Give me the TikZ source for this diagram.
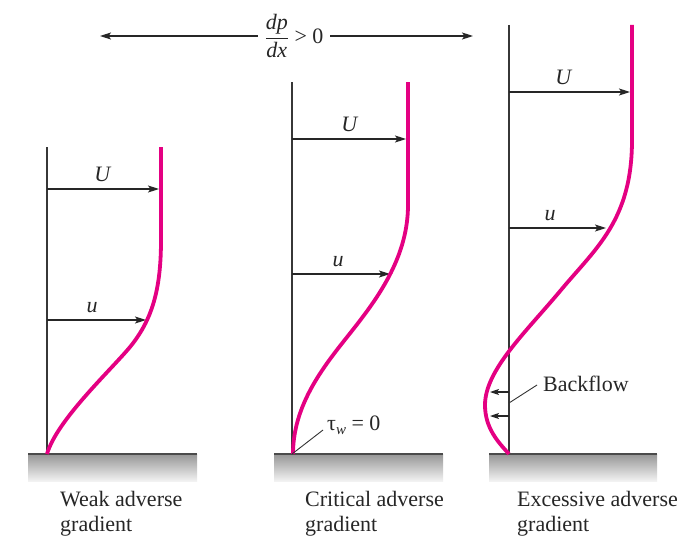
\documentclass[tikz,border=0pt]{standalone}
\usepackage{fontspec}
\setmainfont{Liberation Serif}
\usetikzlibrary{arrows.meta}
\definecolor{mag}{RGB}{228,0,130}
\definecolor{axgray}{RGB}{55,55,55}
\definecolor{walltop}{RGB}{150,150,150}
\definecolor{wallbot}{RGB}{242,242,242}
\tikzset{
 axisline/.style={draw=axgray, line width=1.4pt},
 wallline/.style={draw=axgray!90, line width=2pt},
 profile/.style={draw=mag, line width=3.8pt, line join=round},
 vel/.style={draw=black!85, line width=1.2pt, -{Stealth[length=11pt,width=7pt,inset=2.5pt]}},
 lbl/.style={font=\fontsize{22}{25}\selectfont, inner sep=0pt, text=black!85},
 wallfill/.style={top color=walltop, bottom color=wallbot, draw=none},
 leader/.style={draw=black!80, line width=0.9pt},
}
\begin{document}
\begin{tikzpicture}[x=1pt,y=-1pt]
\useasboundingbox (0,0) rectangle (679,535);

% ---- top pressure-gradient label
\node[lbl, outer sep=7pt] (grad) at (294,36) {$\displaystyle\frac{\textit{dp}}{\textit{dx}}$ > 0};
\coordinate (gl) at (100,36);
\coordinate (gr) at (473,36);
\draw[vel] (grad.west) -- (grad.west -| gl);
\draw[vel] (grad.east) -- (grad.east -| gr);

% ---- panel 1
\shade[wallfill] (28,454) rectangle (197,481);
\draw[wallline] (28,454) -- (197,454);
\coordinate (a1t) at (47,147);
\coordinate (a1b) at (47,454);
\draw[axisline] (a1t) -- (a1b);
\coordinate (U1s) at (47,189); \coordinate (U1e) at (159,189);
\coordinate (u1s) at (47,320); \coordinate (u1e) at (146,320);
\draw[vel] (U1s) -- (U1e);
\draw[vel] (u1s) -- (u1e);
\node[lbl, anchor=base] (U1) at (103,181) {\textit{U}};
\node[lbl, anchor=base] (u1) at (92,312) {\textit{u}};
\draw[profile] (161,147) -- (161,240)
  .. controls (161,290) and (152,320) .. (130,347)
  .. controls (110,371) and (57,420) .. (47,454);

% ---- panel 2
\shade[wallfill] (274,454) rectangle (443,481);
\draw[wallline] (274,454) -- (443,454);
\coordinate (a2t) at (292,82);
\coordinate (a2b) at (292,454);
\draw[axisline] (a2t) -- (a2b);
\coordinate (U2s) at (292,139); \coordinate (U2e) at (406,139);
\coordinate (u2s) at (292,274); \coordinate (u2e) at (390,274);
\draw[vel] (U2s) -- (U2e);
\draw[vel] (u2s) -- (u2e);
\node[lbl, anchor=base] (U2) at (350,131) {\textit{U}};
\node[lbl, anchor=base] (u2) at (338,266) {\textit{u}};
\draw[profile] (408,82) -- (408,205)
  .. controls (408,255) and (380,295) .. (355,327)
  .. controls (330,359) and (293,400) .. (293,454);
\node[lbl, anchor=base west] (tau) at (327,430) {τ{\fontsize{15}{15}\selectfont\raisebox{-4pt}{\textit{w}}} = 0};
\draw[leader] (a2b) -- ([shift={(-4,0)}]tau.base west);

% ---- panel 3
\shade[wallfill] (489,454) rectangle (657,481);
\draw[wallline] (489,454) -- (657,454);
\coordinate (a3t) at (509,25);
\coordinate (a3b) at (509,454);
\draw[axisline] (a3t) -- (a3b);
\coordinate (U3s) at (509,92); \coordinate (U3e) at (630,92);
\coordinate (u3s) at (509,228); \coordinate (u3e) at (606,228);
\draw[vel] (U3s) -- (U3e);
\draw[vel] (u3s) -- (u3e);
\node[lbl, anchor=base] (U3) at (564,84) {\textit{U}};
\node[lbl, anchor=base] (u3) at (550,220) {\textit{u}};
\coordinate (b1s) at (509,392); \coordinate (b1e) at (490,392);
\coordinate (b2s) at (509,416); \coordinate (b2e) at (490,416);
\draw[vel, -{Stealth[length=9pt,width=6pt,inset=2pt]}] (b1s) -- (b1e);
\draw[vel, -{Stealth[length=9pt,width=6pt,inset=2pt]}] (b2s) -- (b2e);
\draw[profile] (632,25) -- (632,140)
  .. controls (632,220) and (596,248) .. (561,290)
  .. controls (526,332) and (485,370) .. (485,405)
  .. controls (485,428) and (498,442) .. (509,454);
\node[lbl, anchor=base west] (bf) at (543,391) {Backflow};
\coordinate (bfp) at (509,403);
\draw[leader] (bfp) -- ([shift={(-6,-6)}]bf.base west);

% ---- captions
\node[lbl, anchor=north west, align=left] (cap1) at (60,491) {Weak adverse\\gradient};
\node[lbl, anchor=north west, align=left] (cap2) at (305,491) {Critical adverse\\gradient};
\node[lbl, anchor=north west, align=left] (cap3) at (517,491) {Excessive adverse\\gradient};
\end{tikzpicture}
\end{document}
